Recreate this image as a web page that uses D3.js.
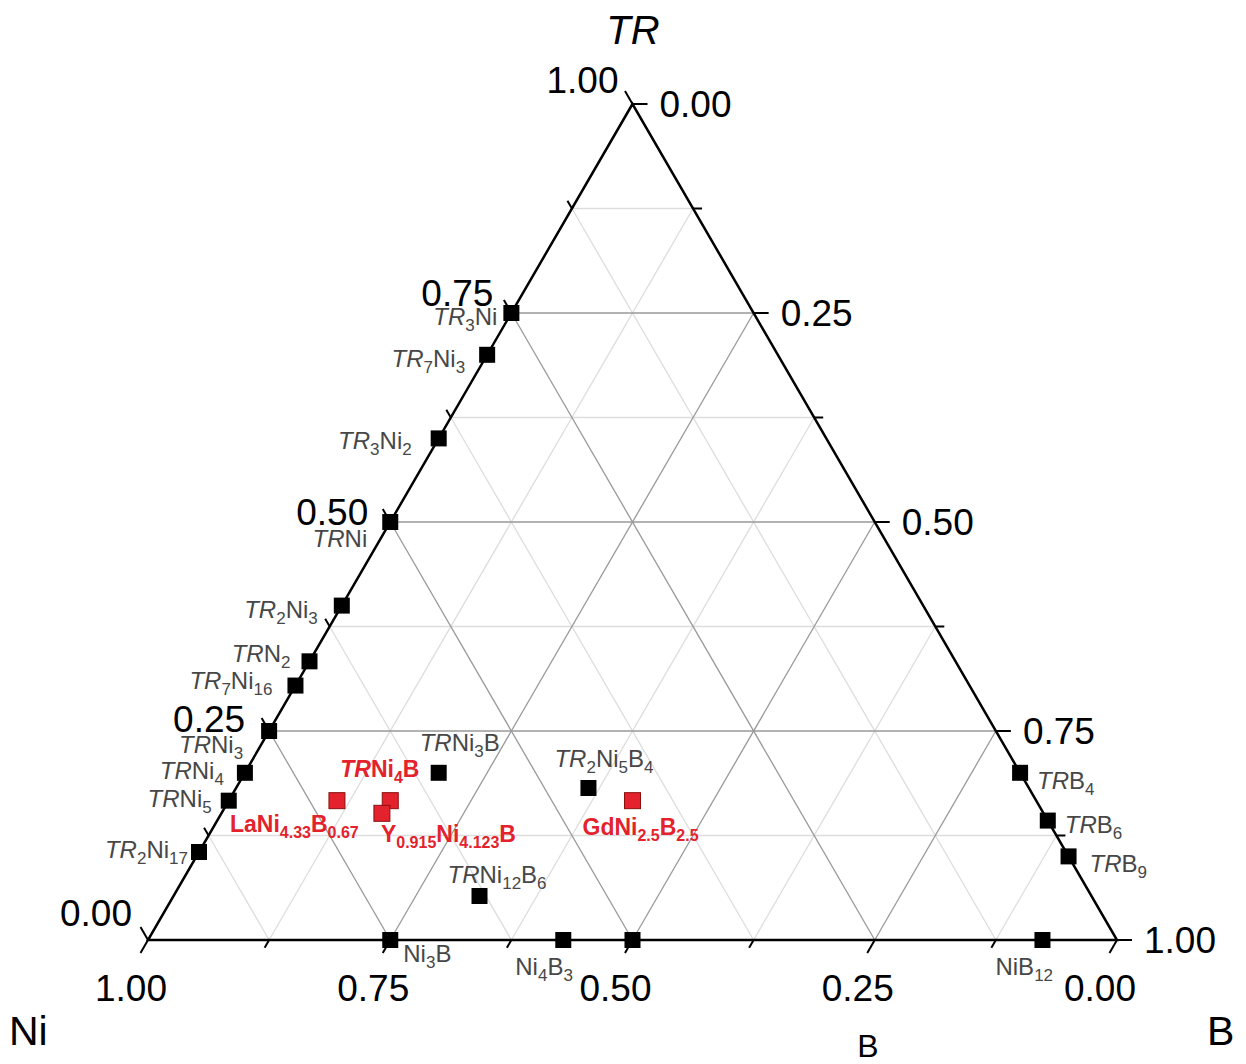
<!DOCTYPE html>
<html>
<head>
<meta charset="utf-8">
<script src="https://cdnjs.cloudflare.com/ajax/libs/d3/7.8.5/d3.min.js"></script>
<style>
  html, body { margin: 0; padding: 0; background: #fff; }
  svg text { font-family: "Liberation Sans", Arial, sans-serif; }
</style>
</head>
<body>
<svg id="chart" width="1246" height="1064"></svg>
<script>
// ---------- data ----------
// label markup: *x* = italic, _x_ = subscript
const compoundNames = [
  "*TR*_3_Ni", "*TR*_7_Ni_3_", "*TR*_3_Ni_2_", "*TR*Ni", "*TR*_2_Ni_3_", "*TR*N_2_",
  "*TR*_7_Ni_16_", "*TR*Ni_3_", "*TR*Ni_4_", "*TR*Ni_5_", "*TR*_2_Ni_17_",
  "*TR*Ni_3_B", "*TR*_2_Ni_5_B_4_", "*TR*Ni_12_B_6_",
  "Ni_3_B", "Ni_4_B_3_", "", "NiB_12_",
  "*TR*B_4_", "*TR*B_6_", "*TR*B_9_"
];
const compoundTR = [3, 7, 3, 1, 2, 1, 7, 1, 1, 1, 2, 1, 2, 1, 0, 0, 0, 0, 1, 1, 1];
const compoundNi = [1, 3, 2, 1, 3, 2, 16, 3, 4, 5, 17, 3, 5, 12, 3, 4, 1, 1, 0, 0, 0];
const compoundB  = [0, 0, 0, 0, 0, 0, 0, 0, 0, 0, 0, 1, 4, 6, 1, 3, 1, 12, 4, 6, 9];

const newNames = ["*TR*Ni_4_B", "LaNi_4.33_B_0.67_", "Y_0.915_Ni_4.123_B", "GdNi_2.5_B_2.5_"];
const newTR = [1, 1, 0.915, 1];
const newNi = [4, 4.33, 4.123, 2.5];
const newB  = [1, 0.67, 1, 2.5];

const majorTicks = [0, 0.25, 0.5, 0.75, 1];
const minorTicks = [0.125, 0.375, 0.625, 0.875];
const tickFormat = d3.format(".2f");
const axisTitles = { top: "TR", left: "Ni", right: "B", bottom: "B" };

// ---------- layout (label offsets relative to marker, px) ----------
const compoundLabelPos = [
  [-14, 12, "end"], [-22, 12, "end"], [-27, 11, "end"], [-23, 25, "end"], [-24, 12, "end"], [-19, 1, "end"],
  [-23, 3, "end"], [-26, 22, "end"], [-21, 6, "end"], [-17, 6, "end"], [-11, 6, "end"],
  [-19, -22, "start"], [-34, -21, "start"], [-32, -13, "start"],
  [13, 22, "start"], [-48, 35, "start"], [0, 0, "start"], [-47, 35, "start"],
  [17, 16, "start"], [17, 12, "start"], [21, 16, "start"]
];
const newLabelPos = [[-50, -24, "start"], [-107, 31, "start"], [-1, 29, "start"], [-50, 34, "start"]];
// left-axis tick label offsets (end-anchored) for 0, .25, .5, .75, 1
const leftTickPos = [[-16, -14], [-24, 1], [-22, 3], [-18, -7], [-14, -11]];

// ---------- scales ----------
const svg = d3.select("#chart");
const xS = d3.scaleLinear().domain([0, 1]).range([148, 1117]);
const yS = d3.scaleLinear().domain([0, 1]).range([940, 104]);
function proj(t, b) { return [xS(b + t / 2), yS(t)]; }
const sqrt3 = Math.sqrt(3) / 2;

// ---------- grid ----------
const gGrid = svg.append("g");
function gridLines(vals, color) {
  vals.forEach(v => {
    const segs = [
      [proj(v, 0), proj(v, 1 - v)],          // constant TR
      [proj(0, v), proj(1 - v, v)],          // constant B
      [proj(1 - v, 0), proj(0, 1 - v)]       // constant Ni
    ];
    segs.forEach(s => {
      gGrid.append("line")
        .attr("x1", s[0][0]).attr("y1", s[0][1])
        .attr("x2", s[1][0]).attr("y2", s[1][1])
        .attr("stroke", color).attr("stroke-width", 1.3);
    });
  });
}
gridLines(minorTicks, "#dddddd");
gridLines(majorTicks.filter(v => v > 0 && v < 1), "#999999");

// ---------- axes ----------
const gAx = svg.append("g");
const A = proj(1, 0), Bl = proj(0, 0), Br = proj(0, 1);
gAx.append("path")
  .attr("d", `M${A[0]},${A[1]}L${Bl[0]},${Bl[1]}L${Br[0]},${Br[1]}Z`)
  .attr("fill", "none").attr("stroke", "#000").attr("stroke-width", 2.5)
  .attr("stroke-linejoin", "miter");

function tick(p, dx, dy, len) {
  gAx.append("line")
    .attr("x1", p[0]).attr("y1", p[1])
    .attr("x2", p[0] + dx * len).attr("y2", p[1] + dy * len)
    .attr("stroke", "#000").attr("stroke-width", 2);
}
const allTicks = majorTicks.map(v => [v, 15]).concat(minorTicks.map(v => [v, 9]));
allTicks.forEach(([v, len]) => {
  tick(proj(v, 0), -0.5, -sqrt3, len);          // left axis (TR)
  tick(proj(1 - v, v), 1, 0, len);              // right axis
  tick(proj(0, 1 - v), -0.5, sqrt3, len);       // bottom axis (Ni)
});

const tickFont = 37;
majorTicks.forEach((v, i) => {
  let p = proj(v, 0);
  gAx.append("text").attr("x", p[0] + leftTickPos[i][0]).attr("y", p[1] + leftTickPos[i][1])
    .attr("text-anchor", "end").attr("font-size", tickFont).text(tickFormat(v));
  p = proj(1 - v, v);
  gAx.append("text").attr("x", p[0] + 27).attr("y", p[1] + 13)
    .attr("text-anchor", "start").attr("font-size", tickFont).text(tickFormat(v));
  p = proj(0, 1 - v);
  gAx.append("text").attr("x", p[0] - 17).attr("y", p[1] + 61)
    .attr("text-anchor", "middle").attr("font-size", tickFont).text(tickFormat(v));
});

// titles
svg.append("text").attr("x", 633).attr("y", 44).attr("text-anchor", "middle")
  .attr("font-size", 40).attr("font-style", "italic").text(axisTitles.top);
svg.append("text").attr("x", 9).attr("y", 1045).attr("font-size", 41).text(axisTitles.left);
svg.append("text").attr("x", 1207).attr("y", 1045).attr("font-size", 41).text(axisTitles.right);
svg.append("text").attr("x", 868).attr("y", 1057).attr("text-anchor", "middle")
  .attr("font-size", 32).text(axisTitles.bottom);

// ---------- rich labels ----------
function richText(sel, str, size, subSize, shift) {
  const parts = str.split(/(\*[^*]+\*|_[^_]+_)/).filter(s => s.length);
  let inSub = false;
  parts.forEach(part => {
    const ts = sel.append("tspan");
    if (part[0] === "_") {
      ts.text(part.slice(1, -1)).attr("font-size", subSize);
      if (!inSub) ts.attr("dy", shift);
      inSub = true;
    } else {
      const txt = part[0] === "*" ? part.slice(1, -1) : part;
      ts.text(txt).attr("font-size", size);
      if (part[0] === "*") ts.attr("font-style", "italic");
      if (inSub) ts.attr("dy", -shift);
      inSub = false;
    }
  });
}

// ---------- points ----------
const gPts = svg.append("g");
const compounds = compoundNames.map((n, i) => {
  const s = compoundTR[i] + compoundNi[i] + compoundB[i];
  return { name: n, t: compoundTR[i] / s, b: compoundB[i] / s, lp: compoundLabelPos[i] };
});
const news = newNames.map((n, i) => {
  const s = newTR[i] + newNi[i] + newB[i];
  return { name: n, t: newTR[i] / s, b: newB[i] / s, lp: newLabelPos[i] };
});

const ms = 16;
compounds.forEach(d => {
  const p = proj(d.t, d.b);
  gPts.append("rect").attr("x", p[0] - ms / 2).attr("y", p[1] - ms / 2)
    .attr("width", ms).attr("height", ms).attr("fill", "#000");
  if (d.name) {
    const t = gPts.append("text").attr("x", p[0] + d.lp[0]).attr("y", p[1] + d.lp[1])
      .attr("text-anchor", d.lp[2]).attr("fill", "#474747");
    richText(t, d.name, 24, 17, 6);
  }
});
news.forEach(d => {
  const p = proj(d.t, d.b);
  gPts.append("rect").attr("x", p[0] - ms / 2).attr("y", p[1] - ms / 2)
    .attr("width", ms).attr("height", ms).attr("fill", "#e3222d")
    .attr("stroke", "#8a1010").attr("stroke-width", 1);
  const t = gPts.append("text").attr("x", p[0] + d.lp[0]).attr("y", p[1] + d.lp[1])
    .attr("text-anchor", d.lp[2]).attr("fill", "#e3222d").attr("font-weight", "bold");
  richText(t, d.name, 23, 16, 6);
});
</script>
</body>
</html>
